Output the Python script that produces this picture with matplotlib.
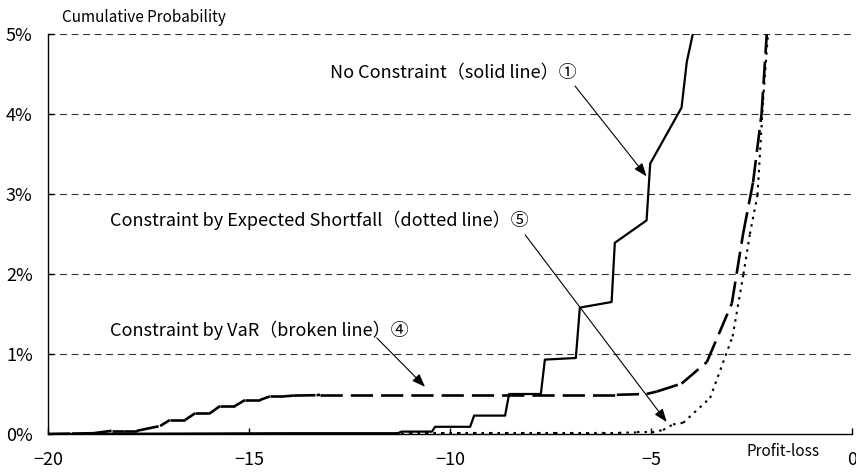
import matplotlib
matplotlib.use('Agg')
import matplotlib.pyplot as plt
from matplotlib.collections import LineCollection
from matplotlib.ticker import FuncFormatter
import numpy as np

plt.rcParams['font.family'] = ['Noto Sans CJK JP', 'DejaVu Sans']
plt.rcParams['lines.scale_dashes'] = False

# No constraint (solid line)
nc_x = [-20, -14.0, -11.3, -11.2, -10.45, -10.37, -9.50, -9.40, -8.63, -8.53, -7.74,
        -7.64, -6.87, -6.77, -5.98, -5.90, -5.11, -5.02, -4.24, -4.11, -3.96, -3.80]
nc_y = [0, 0.01, 0.01, 0.03, 0.03, 0.09, 0.09, 0.23, 0.23, 0.50, 0.50,
        0.93, 0.95, 1.58, 1.65, 2.39, 2.67, 3.38, 4.08, 4.65, 5.0, 5.5]

# Constraint by VaR (broken line)
var_x = [-20, -19.4, -18.87, -18.42, -18.1, -17.79, -17.21, -16.97, -16.59, -16.34, -15.97,
         -15.72, -15.35, -15.10, -14.73, -14.48, -14.15, -13.90, -13.32, -13.23, -5.85, -5.11,
         -4.86, -4.24, -3.61, -2.99, -2.71, -2.46, -2.25, -2.12, -2.0]
var_y = [0, 0.005, 0.01, 0.04, 0.04, 0.04, 0.10, 0.175, 0.175, 0.26, 0.26,
         0.35, 0.35, 0.425, 0.425, 0.47, 0.47, 0.48, 0.485, 0.49, 0.49, 0.50,
         0.53, 0.63, 0.90, 1.63, 2.5, 3.15, 4.0, 5.0, 6.0]

# Constraint by Expected Shortfall (dotted line)
es_x = [-20, -11.4, -11.0, -10.6, -10.2, -9.8, -9.4, -9.0, -8.6, -8.2, -7.8, -7.4,
        -7.0, -6.6, -6.2, -5.8, -5.36, -4.98, -4.70, -4.45, -4.20, -3.53, -2.97,
        -2.70, -2.54, -2.35, -2.21, -2.09, -2.0]
es_y = [0, 0, 0.01, 0.01, 0.01, 0.01, 0.01, 0.01, 0.01, 0.01, 0.01, 0.01,
        0.01, 0.01, 0.015, 0.015, 0.02, 0.02, 0.05, 0.12, 0.14, 0.45, 1.22,
        2.0, 2.5, 2.99, 4.18, 5.0, 6.0]

y_ticks = [0, 1, 2, 3, 4, 5]
x_ticks = [-20, -15, -10, -5, 0]


def segments(x, y):
    pts = np.column_stack([x, y])
    return np.stack([pts[:-1], pts[1:]], axis=1)


fig = plt.figure(figsize=(8.56, 4.74), dpi=100)
ax = fig.add_axes([48 / 856, 1 - 434 / 474, 804 / 856, 400 / 474])

for yv in y_ticks[1:]:
    ax.axhline(yv, color='#333333', lw=0.8, linestyle=(0, (5, 3.3)), zorder=1)

ax.plot(nc_x, nc_y, color='black', lw=1.6, zorder=3)
# Excel restarts the dash pattern on each segment
ax.add_collection(LineCollection(segments(var_x, var_y), colors='black', linewidths=1.9,
                                 linestyles=[(0, (16, 5.8))], zorder=3, capstyle='butt'))
ax.add_collection(LineCollection(segments(es_x, es_y), colors='black', linewidths=1.5,
                                 linestyles=[(0, (1.8, 3.6))], zorder=3, capstyle='butt'))

ax.set_xlim(-20, 0)
ax.set_ylim(0, 5)
ax.set_xticks(x_ticks)
ax.set_yticks(y_ticks)
ax.yaxis.set_major_formatter(FuncFormatter(lambda v, p: '%d%%' % v))
ax.tick_params(axis='both', direction='in', length=4, width=1, labelsize=13)
ax.tick_params(axis='x', pad=12)
ax.tick_params(axis='y', pad=11)
for s in ['top', 'right']:
    ax.spines[s].set_visible(False)
for s in ['left', 'bottom']:
    ax.spines[s].set_linewidth(1)

fig.text(62 / 856, 1 - 18 / 474, 'Cumulative Probability', fontsize=11, va='center', ha='left')
fig.text(783 / 856, 1 - 452 / 474, 'Profit-loss', fontsize=11, va='center', ha='center')

ax.text(-12.99, 4.51, 'No Constraint（solid line）①', fontsize=13, va='center', ha='left')
ax.text(-18.46, 2.675, 'Constraint by Expected Shortfall（dotted line）⑤', fontsize=13,
        va='center', ha='left')
ax.text(-18.46, 1.30, 'Constraint by VaR（broken line）④', fontsize=13, va='center', ha='left')

arrow = dict(arrowstyle='-|>,head_length=0.8,head_width=0.3', color='black', lw=0.8,
             shrinkA=0, shrinkB=0, mutation_scale=10)
ax.annotate('', xy=(-5.11, 3.22), xytext=(-6.89, 4.35), arrowprops=arrow)
ax.annotate('', xy=(-4.61, 0.15), xytext=(-8.13, 2.49), arrowprops=arrow)
ax.annotate('', xy=(-10.62, 0.59), xytext=(-11.82, 1.20), arrowprops=arrow)

fig.savefig('out.png', dpi=100)
